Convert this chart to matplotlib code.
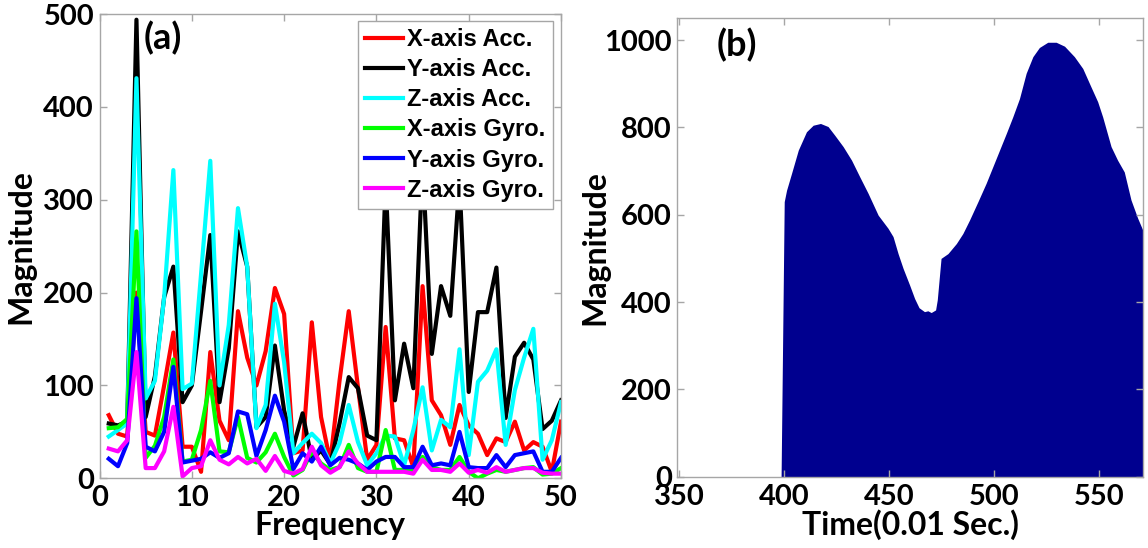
import matplotlib
matplotlib.use("Agg")
import matplotlib.pyplot as plt

# ---------------- data: panel (a) ----------------
freq = list(range(1, 51))
x_acc = [68, 48, 45, 200, 50, 46, 100, 157, 34, 34,
         7, 136, 62, 41, 180, 130, 100, 137, 205, 177,
         27, 30, 168, 66, 18, 105, 180, 98, 20, 36,
         163, 43, 41, 12, 207, 84, 68, 36, 79, 57,
         48, 25, 43, 39, 61, 30, 39, 34, 7, 61]
y_acc = [59, 57, 61, 494, 66, 110, 195, 228, 82, 100,
         180, 262, 82, 140, 266, 228, 55, 66, 143, 73,
         34, 70, 20, 30, 15, 59, 109, 97, 46, 41,
         320, 84, 145, 97, 340, 134, 207, 175, 320, 93,
         179, 179, 227, 65, 131, 146, 128, 53, 62, 84]
z_acc = [45, 52, 59, 431, 86, 105, 195, 332, 96, 102,
         220, 342, 100, 165, 291, 228, 54, 79, 188, 125,
         27, 38, 48, 38, 16, 38, 79, 39, 14, 27,
         46, 45, 14, 52, 98, 30, 63, 55, 139, 25,
         104, 116, 139, 36, 95, 130, 161, 20, 41, 82]
x_gyro = [54, 55, 64, 266, 22, 35, 66, 128, 18, 20,
          52, 105, 29, 28, 66, 22, 17, 28, 48, 23,
          3, 9, 29, 16, 9, 12, 36, 11, 7, 7,
          52, 9, 9, 9, 23, 12, 9, 9, 23, 7,
          0, 5, 9, 7, 9, 11, 12, 4, 5, 11]
y_gyro = [21, 13, 38, 194, 34, 29, 50, 120, 17, 19,
          21, 28, 22, 27, 72, 69, 24, 52, 89, 61,
          10, 27, 18, 34, 14, 22, 20, 16, 9, 18,
          23, 23, 12, 12, 34, 14, 16, 14, 50, 12,
          11, 11, 25, 12, 25, 27, 29, 7, 7, 22]
z_gyro = [32, 29, 41, 136, 11, 11, 29, 77, 2, 11,
          13, 41, 20, 15, 23, 16, 21, 8, 24, 8,
          5, 10, 34, 14, 6, 12, 29, 16, 7, 7,
          7, 7, 7, 5, 20, 9, 9, 7, 16, 6,
          9, 6, 12, 7, 9, 11, 11, 6, 5, 5]
series_names = ["X-axis Acc.", "Y-axis Acc.", "Z-axis Acc.",
                "X-axis Gyro.", "Y-axis Gyro.", "Z-axis Gyro."]
series_colors = ["#ff0000", "#000000", "#00ffff", "#00ff00", "#0000ff", "#ff00ff"]

# ---------------- data: panel (b) ----------------
time_b = [398.5, 400, 401.1, 403.5, 406.7, 410.6, 413.8, 417.3, 420.9, 424.1,
          428.1, 432.1, 436.0, 440.0, 444.8, 449.5, 451.9, 454.3, 456.7, 459.8,
          462.2, 464.3, 466.9, 468.5, 470.1, 472.2, 473.0, 474.8, 478.1, 482.1,
          485.2, 488.4, 492.4, 496.3, 499.5, 502.7, 505.9, 509.0, 512.2, 515.4,
          518.6, 521.7, 525.7, 529.7, 533.7, 538.4, 542.4, 546.3, 549.5, 551.9,
          555.9, 559.0, 562.2, 565.4, 568.6, 571.0]
mag_b = [0, 630, 656, 695, 748, 790, 805, 809, 802, 782,
         756, 725, 687, 649, 599, 569, 550, 511, 477, 439,
         408, 387, 378, 380, 376, 382, 405, 500, 511, 534,
         557, 588, 630, 672, 710, 748, 786, 824, 866, 924,
         962, 983, 995, 995, 986, 962, 935, 893, 859, 824,
         756, 725, 698, 634, 592, 565]

tick_font = {"family": "Lato", "weight": "bold", "size": 21}
label_font = {"family": "Lato", "weight": "bold", "size": 23}
spine_color = "#a6a6a6"

fig = plt.figure(figsize=(11.48, 5.48), dpi=100)

def style_axes(ax):
    for s in ax.spines.values():
        s.set_color(spine_color)
        s.set_linewidth(1.0)
    ax.tick_params(axis="y", direction="in", which="both", right=True,
                   length=5, width=1.0, color=spine_color, pad=4)
    ax.tick_params(axis="x", direction="in", which="both", top=True,
                   length=5, width=1.0, color=spine_color, pad=5)
    for lab in ax.get_xticklabels() + ax.get_yticklabels():
        lab.set_fontfamily(tick_font["family"])
        lab.set_fontweight(tick_font["weight"])
        lab.set_fontsize(tick_font["size"])

# ---- panel (a)
ax1 = fig.add_axes([0.0867, 0.1272, 0.402, 0.847])
all_series = [x_acc, y_acc, z_acc, x_gyro, y_gyro, z_gyro]
for vals, name, col in zip(all_series, series_names, series_colors):
    ax1.plot(freq, vals, color=col, lw=3.0, label=name)
ax1.set_xlim(0, 50)
ax1.set_ylim(0, 500)
ax1.set_xticks([0, 10, 20, 30, 40, 50])
ax1.set_yticks([0, 100, 200, 300, 400, 500])
style_axes(ax1)
ax1.set_xlabel("Frequency", fontdict=label_font, labelpad=0)
ax1.set_ylabel("Magnitude", fontdict=label_font, labelpad=6)
ax1.text(0.095, 0.985, "(a)", transform=ax1.transAxes, ha="left", va="top",
         fontfamily="Lato", fontweight="bold", fontsize=26)
leg = ax1.legend(loc="upper right", bbox_to_anchor=(0.982, 0.985),
                 prop={"family": "Liberation Sans", "weight": "bold", "size": 17},
                 handlelength=1.6, handletextpad=0.2, labelspacing=0.3,
                 borderpad=0.3, borderaxespad=0.0, fancybox=False, framealpha=1.0)
leg.get_frame().set_edgecolor(spine_color)
leg.get_frame().set_linewidth(1.0)

# ---- panel (b)
ax2 = fig.add_axes([0.59, 0.1301, 0.4054, 0.8366])
ax2.fill_between(time_b, mag_b, 0, color="#00008F", linewidth=0)
ax2.set_xlim(349, 571)
ax2.set_ylim(0, 1050)
ax2.set_xticks([350, 400, 450, 500, 550])
ax2.set_yticks([0, 200, 400, 600, 800, 1000])
style_axes(ax2)
ax2.set_xlabel("Time(0.01 Sec.)", fontdict=label_font, labelpad=0)
ax2.set_ylabel("Magnitude", fontdict=label_font, labelpad=-4)
ax2.text(0.085, 0.979, "(b)", transform=ax2.transAxes, ha="left", va="top",
         fontfamily="Lato", fontweight="bold", fontsize=26)

fig.savefig("out.png", dpi=100)
